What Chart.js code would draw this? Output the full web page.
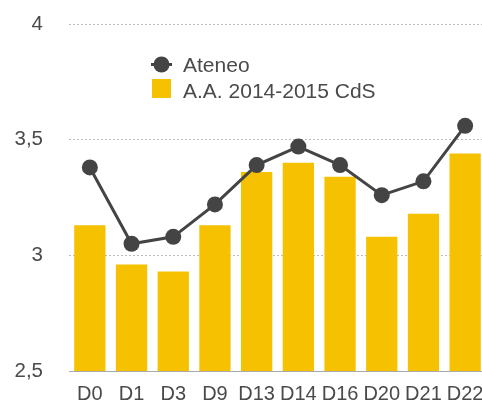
<!DOCTYPE html>
<html>
<head>
<meta charset="utf-8">
<script src="https://cdn.jsdelivr.net/npm/chart.js@4/dist/chart.umd.min.js"></script>
<style>
  html, body { margin: 0; padding: 0; background: #fff; overflow: hidden; }
  #wrap { width: 486px; height: 400px; }
</style>
</head>
<body>
<div id="wrap"><canvas id="chart" width="486" height="400"></canvas></div>
<script>
const categories = ["D0", "D1", "D3", "D9", "D13", "D14", "D16", "D20", "D21", "D22"];
const ateneo = [3.38, 3.05, 3.08, 3.22, 3.39, 3.47, 3.39, 3.26, 3.32, 3.56];
const cds = [3.13, 2.96, 2.93, 3.13, 3.36, 3.40, 3.34, 3.08, 3.18, 3.44];
const yTicks = [2.5, 3, 3.5, 4];

const FONT = "'Liberation Sans', Arial, sans-serif";
const TEXT = "#4a4a4a";
const LINE = "#444444";
const BAR = "#f5c100";

// legend drawn inside the plot, top-left
const innerLegend = {
  id: "innerLegend",
  afterDraw(chart) {
    const ctx = chart.ctx;
    const sets = chart.data.datasets;
    ctx.save();
    ctx.font = "21px " + FONT;
    ctx.textBaseline = "alphabetic";
    ctx.textAlign = "left";
    // line + point marker
    ctx.strokeStyle = LINE;
    ctx.lineWidth = 3;
    ctx.beginPath();
    ctx.moveTo(151, 64.5);
    ctx.lineTo(172, 64.5);
    ctx.stroke();
    ctx.fillStyle = LINE;
    ctx.beginPath();
    ctx.arc(161.5, 64.5, 8, 0, Math.PI * 2);
    ctx.fill();
    ctx.fillStyle = TEXT;
    ctx.fillText(sets[0].label, 183, 72);
    // bar marker
    ctx.fillStyle = BAR;
    ctx.fillRect(152, 79, 19, 19);
    ctx.fillStyle = TEXT;
    ctx.fillText(sets[1].label, 183, 97.5);
    ctx.restore();
  }
};

new Chart(document.getElementById("chart"), {
  data: {
    labels: categories,
    datasets: [
      {
        type: "line",
        label: "Ateneo",
        data: ateneo,
        borderColor: LINE,
        backgroundColor: LINE,
        borderWidth: 3,
        pointRadius: 8,
        pointBorderWidth: 0,
        pointBackgroundColor: LINE,
        tension: 0,
        order: 0,
      },
      {
        type: "bar",
        label: "A.A. 2014-2015 CdS",
        data: cds,
        backgroundColor: BAR,
        borderWidth: 0,
        barPercentage: 0.75,
        categoryPercentage: 1,
        order: 1,
      },
    ],
  },
  options: {
    responsive: false,
    animation: false,
    layout: { autoPadding: false, padding: { top: 24, right: 0, left: 0, bottom: 0 } },
    plugins: { legend: { display: false }, tooltip: { enabled: false } },
    scales: {
      x: {
        grid: { display: false, drawTicks: false },
        border: { display: true, color: "#aaaaaa", width: 1 },
        ticks: {
          autoSkip: false,
          maxRotation: 0,
          padding: 11,
          color: TEXT,
          font: { family: FONT, size: 20 },
        },
        afterFit(scale) {
          scale.height = 29;
          scale.paddingLeft = 0;
          scale.paddingRight = 0;
        },
      },
      y: {
        min: yTicks[0],
        max: yTicks[yTicks.length - 1],
        afterBuildTicks(scale) { scale.ticks = yTicks.map(v => ({ value: v })); },
        grid: {
          color: (c) => (c.tick && c.tick.value === yTicks[0] ? "rgba(0,0,0,0)" : "#bbbbbb"),
          drawTicks: false,
          lineWidth: 1,
        },
        border: { display: false, dash: [2, 2] },
        ticks: {
          padding: 26,
          color: TEXT,
          font: { family: FONT, size: 20.5 },
          callback: (v) => String(v).replace(".", ","),
        },
        afterFit(scale) {
          scale.width = 69;
          scale.paddingTop = 0;
          scale.paddingBottom = 0;
        },
      },
    },
  },
  plugins: [innerLegend],
});
</script>
</body>
</html>
